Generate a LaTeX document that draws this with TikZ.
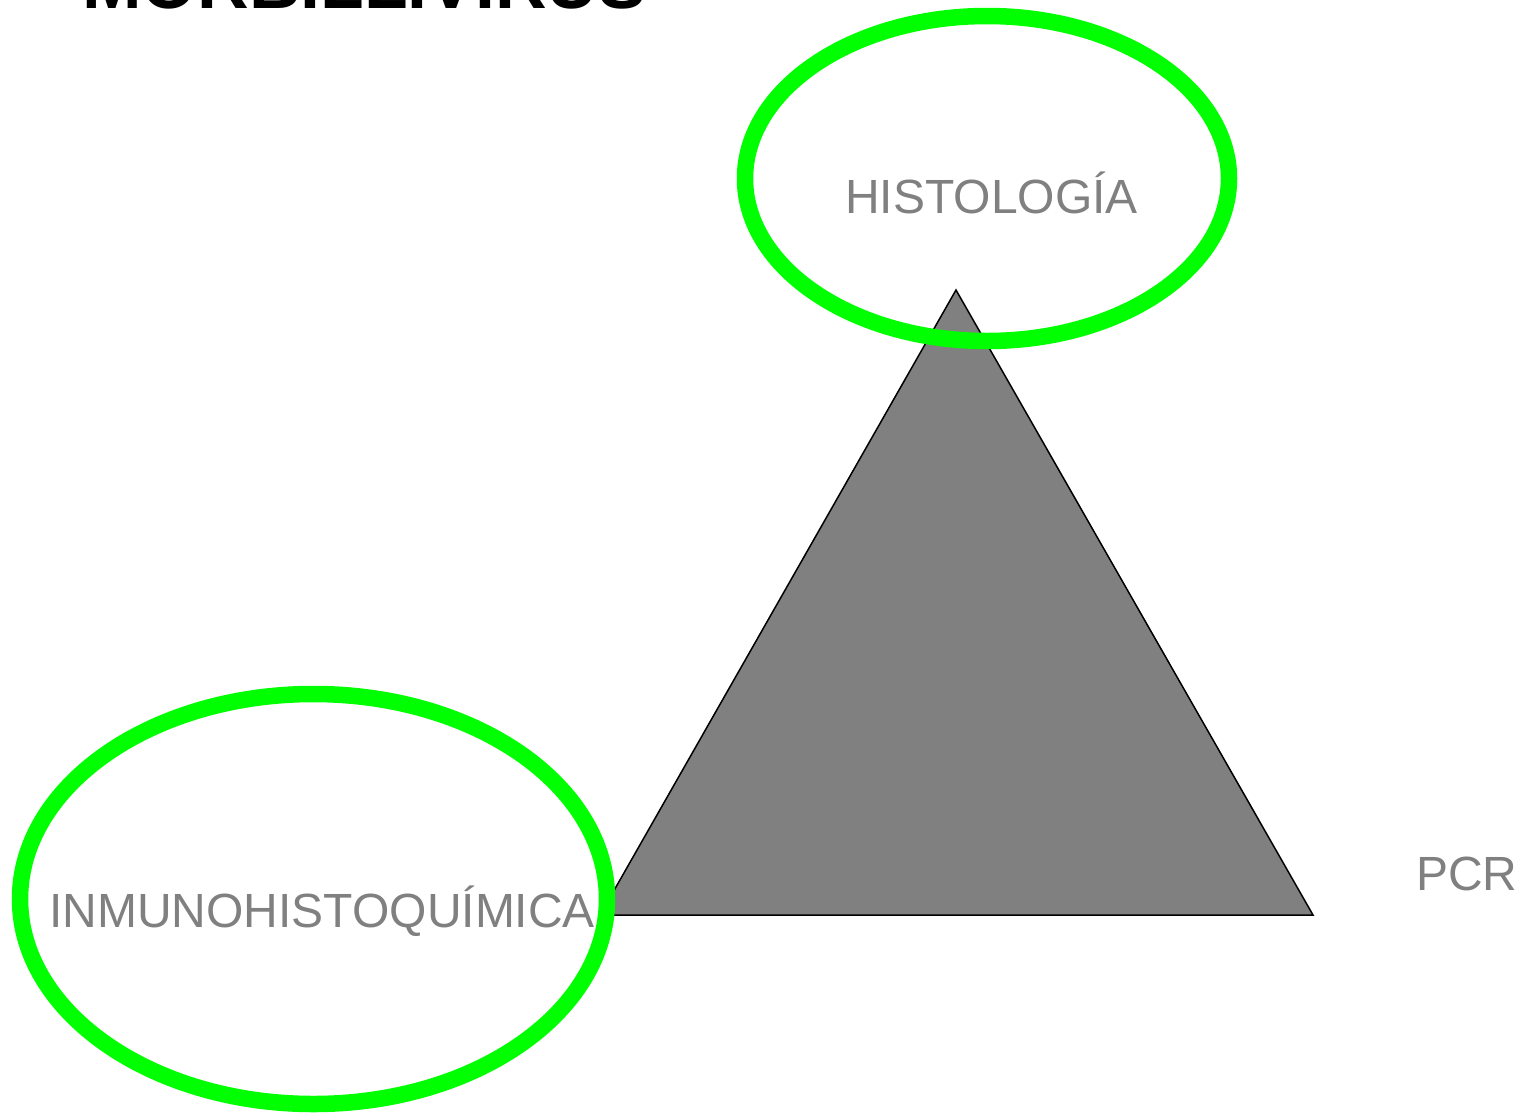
\documentclass[tikz,border=0pt]{standalone}
\usepackage{fontspec}
\setmainfont{Liberation Sans}
\usetikzlibrary{shapes.geometric}
\definecolor{ringgreen}{RGB}{0,255,0}
\definecolor{labelgray}{RGB}{128,128,128}
\tikzset{
  ring/.style={draw=ringgreen, line width=16.5pt, ellipse, inner sep=0pt},
  lbl/.style={text=labelgray, font=\fontsize{48}{58}\selectfont, inner sep=0pt, anchor=base west},
  ttl/.style={text=black, font=\bfseries\fontsize{71.5}{86}\selectfont, inner sep=0pt, anchor=base west},
}
\begin{document}
\begin{tikzpicture}[x=1pt,y=-1pt]
\useasboundingbox (0,0) rectangle (1524,1114);
\clip (0,0) rectangle (1524,1114);
\node[ttl] (title) at (82,8) {MORBILLIVIRUS};
\coordinate (apex) at (956,290);
\coordinate (bl) at (600,915);
\coordinate (br) at (1313,915);
\draw[fill=labelgray, draw=black, line width=1.5pt, line join=miter] (apex) -- (br) -- (bl) -- cycle;
\node[lbl] (histo) at (845,213) {HISTOLOGÍA};
\node[lbl] (inmuno) at (49,927) {INMUNOHISTOQUÍMICA};
\node[lbl] (pcr) at (1416,890) {PCR};
\node[ring, minimum width=484pt, minimum height=325pt] (ringtop) at (987,178.5) {};
\node[ring, minimum width=587pt, minimum height=410pt] (ringleft) at (313.5,899) {};
\end{tikzpicture}
\end{document}
